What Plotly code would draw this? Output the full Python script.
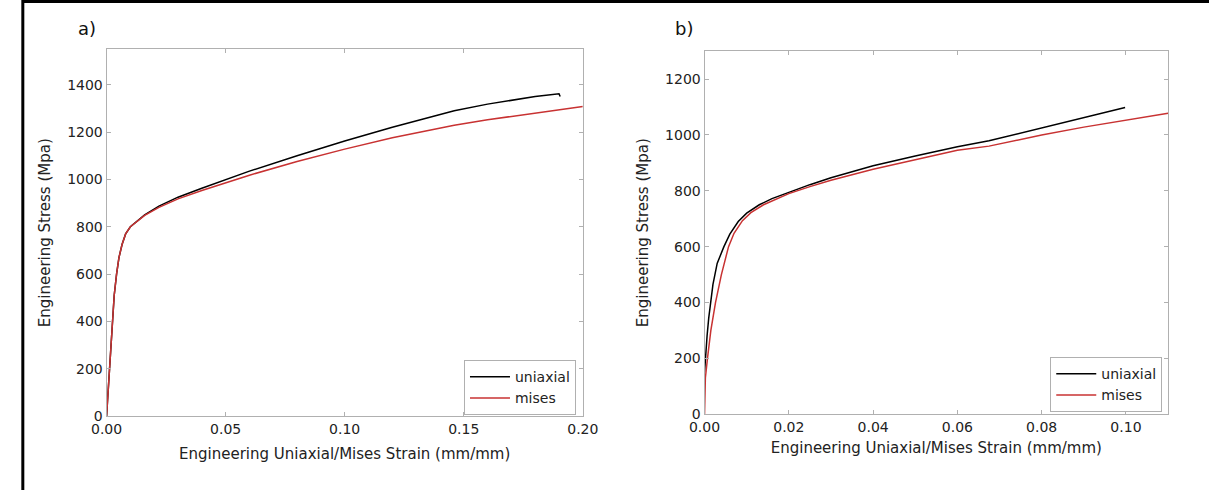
import plotly.graph_objects as go

# ---------------- data: panel a ----------------
a_uni_strain = [0, 0.0006, 0.0011, 0.0017, 0.0023, 0.0032, 0.0042, 0.0052, 0.0065, 0.008, 0.010,
                0.0123, 0.016, 0.022, 0.03, 0.04, 0.05, 0.06, 0.08, 0.10, 0.12, 0.146, 0.16, 0.18,
                0.19, 0.1905]
a_uni_stress = [0, 100, 200, 300, 400, 510, 600, 670, 725, 770, 800,
                820, 850, 887, 925, 963, 1000, 1035, 1100, 1162, 1220, 1290, 1318, 1350,
                1362, 1350]
a_mis_strain = [0, 0.0006, 0.0011, 0.0017, 0.0023, 0.0032, 0.0042, 0.0052, 0.0065, 0.008, 0.010,
                0.0123, 0.016, 0.022, 0.03, 0.04, 0.05, 0.06, 0.08, 0.10, 0.12, 0.146, 0.16, 0.18,
                0.20]
a_mis_stress = [0, 100, 200, 300, 400, 510, 600, 670, 725, 770, 800,
                820, 848, 882, 918, 953, 987, 1018, 1076, 1128, 1176, 1229, 1252, 1281,
                1308]

# ---------------- data: panel b ----------------
b_uni_strain = [0, 0.0002, 0.0006, 0.001, 0.0014, 0.002, 0.003, 0.0046, 0.006, 0.008, 0.010,
                0.013, 0.016, 0.02, 0.025, 0.03, 0.04, 0.05, 0.06, 0.0675, 0.08, 0.09, 0.0998]
b_uni_stress = [150, 205, 280, 345, 400, 465, 540, 600, 645, 690, 720,
                750, 772, 795, 822, 847, 890, 925, 958, 979, 1025, 1062, 1098]
b_mis_strain = [0, 0.0001, 0.0002, 0.0007, 0.0015, 0.0026, 0.004, 0.0057, 0.007, 0.009, 0.011,
                0.014, 0.02, 0.025, 0.03, 0.04, 0.05, 0.06, 0.0675, 0.08, 0.09, 0.10, 0.11]
b_mis_stress = [0, 60, 130, 200, 300, 400, 500, 600, 648, 693, 722,
                750, 790, 815, 838, 877, 912, 945, 960, 1000, 1028, 1052, 1078]

a_xticks = [0, 0.05, 0.10, 0.15, 0.20]
a_yticks = [0, 200, 400, 600, 800, 1000, 1200, 1400]
b_xticks = [0, 0.02, 0.04, 0.06, 0.08, 0.10]
b_yticks = [0, 200, 400, 600, 800, 1000, 1200]

series_names = ["uniaxial", "mises"]
BLACK = "#000000"
RED = "#c83232"
FONT = "DejaVu Sans"
W, H = 1225, 498

fig = go.Figure()
fig.add_trace(go.Scatter(x=a_uni_strain, y=a_uni_stress, mode="lines", name=series_names[0],
                         line=dict(color=BLACK, width=1.5), xaxis="x", yaxis="y", legend="legend"))
fig.add_trace(go.Scatter(x=a_mis_strain, y=a_mis_stress, mode="lines", name=series_names[1],
                         line=dict(color=RED, width=1.5), xaxis="x", yaxis="y", legend="legend"))
fig.add_trace(go.Scatter(x=b_uni_strain, y=b_uni_stress, mode="lines", name=series_names[0],
                         line=dict(color=BLACK, width=1.5), xaxis="x2", yaxis="y2", legend="legend2"))
fig.add_trace(go.Scatter(x=b_mis_strain, y=b_mis_stress, mode="lines", name=series_names[1],
                         line=dict(color=RED, width=1.5), xaxis="x2", yaxis="y2", legend="legend2"))

axis_common = dict(showgrid=False, zeroline=False, showline=True, mirror="ticks",
                   linecolor="#b0b0b0", linewidth=1, ticks="inside", ticklen=4,
                   tickcolor="#b0b0b0", tickfont=dict(family=FONT, size=14, color="#222"))
xt = "Engineering Uniaxial/Mises Strain (mm/mm)"
yt = "Engineering Stress (Mpa)"
title_font = dict(family=FONT, size=15, color="#222")

fig.update_layout(
    width=W, height=H, margin=dict(l=0, r=0, t=0, b=0),
    paper_bgcolor="white", plot_bgcolor="white",
    xaxis=dict(axis_common, domain=[93 / W, 582 / W], range=[0, 0.20], anchor="y",
               tickvals=a_xticks, tickformat=".2f",
               title=dict(text=xt, font=title_font, standoff=12)),
    yaxis=dict(axis_common, domain=[(H - 423) / H, (H - 50) / H], range=[0, 1550], anchor="x",
               tickvals=a_yticks,
               title=dict(text=yt, font=title_font, standoff=12)),
    xaxis2=dict(axis_common, domain=[707 / W, 1183 / W], range=[0, 0.11], anchor="y2",
                tickvals=b_xticks, tickformat=".2f",
                title=dict(text=xt, font=title_font, standoff=8)),
    yaxis2=dict(axis_common, domain=[(H - 421) / H, (H - 52) / H], range=[0, 1300], anchor="x2",
                tickvals=b_yticks,
                title=dict(text=yt, font=title_font, standoff=12)),
    legend=dict(x=575 / W, y=(H - 366) / H, xanchor="right", yanchor="top",
                bordercolor="#b0b0b0", borderwidth=1, bgcolor="white", itemwidth=40,
                font=dict(family=FONT, size=14, color="#222"), tracegroupgap=0),
    legend2=dict(x=1177 / W, y=(H - 363) / H, xanchor="right", yanchor="top",
                 bordercolor="#b0b0b0", borderwidth=1, bgcolor="white", itemwidth=40,
                 font=dict(family=FONT, size=14, color="#222"), tracegroupgap=0),
    showlegend=True,
)

fig.add_annotation(text="a)", x=73 / W, y=(H - 29) / H, xref="paper", yref="paper",
                   xanchor="center", yanchor="middle",
                   showarrow=False, font=dict(family=FONT, size=18, color="#111"))
fig.add_annotation(text="b)", x=686 / W, y=(H - 29) / H, xref="paper", yref="paper",
                   xanchor="center", yanchor="middle",
                   showarrow=False, font=dict(family=FONT, size=18, color="#111"))

# image frame (left and top edges)
fig.add_shape(type="line", xref="paper", yref="paper", x0=7 / W, x1=7 / W, y0=0, y1=1,
              line=dict(color="black", width=3))
fig.add_shape(type="line", xref="paper", yref="paper", x0=7 / W, x1=1, y0=1 - 1.5 / H, y1=1 - 1.5 / H,
              line=dict(color="black", width=3))

fig.write_html("out.html")
